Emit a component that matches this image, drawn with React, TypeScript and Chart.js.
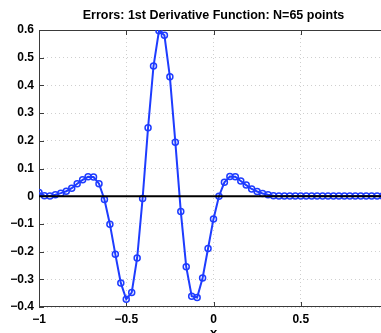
import React, { useEffect, useRef } from 'react';
import { Chart, registerables } from 'chart.js';

Chart.register(...registerables);

const N = 65;
// uniform grid on [-1, 1]
const xGrid: number[] = Array.from({ length: N }, (_, j) => -1 + (2 * j) / (N - 1));
const errors: number[] = [
  0.013, 0.002, 0.001, 0.005, 0.011, 0.018, 0.029, 0.045, 0.059, 0.070,
  0.069, 0.045, -0.012, -0.101, -0.210, -0.313, -0.372, -0.348, -0.223, -0.008,
  0.247, 0.470, 0.597, 0.581, 0.431, 0.195, -0.055, -0.255, -0.361, -0.366,
  -0.295, -0.189, -0.082, 0.000, 0.050, 0.071, 0.070, 0.055, 0.040, 0.026,
  0.017, 0.010, 0.005, 0.002, 0.001, 0.001, 0.001, 0.001, 0.001, 0.001,
  0.001, 0.001, 0.001, 0.001, 0.001, 0.001, 0.001, 0.001, 0.001, 0.001,
  0.001, 0.001, 0.001, 0.001, 0.001,
];
const zeroLineX: number[] = [-1, 1];
const xTicks: number[] = [-1, -0.5, 0, 0.5, 1];
const yTicks: number[] = [-0.4, -0.3, -0.2, -0.1, 0, 0.1, 0.2, 0.3, 0.4, 0.5, 0.6];
const titleText = 'Errors: 1st Derivative Function: N=65 points';
const xLabel = 'x';

const FONT = '"Liberation Sans", Arial, Helvetica, sans-serif';
const fmt = (v: number) => {
  const r = Math.round(Number(v) * 10) / 10;
  return r < 0 ? '\u2212' + String(-r) : String(Math.abs(r));
};

export default function App() {
  const ref = useRef<HTMLCanvasElement>(null);

  useEffect(() => {
    if (!ref.current) return;
    const boxPlugin = {
      id: 'matlabBox',
      beforeDatasetsDraw(chart: any) {
        const { ctx, chartArea: a, scales } = chart;
        ctx.save();
        ctx.strokeStyle = '#3a3a3a';
        ctx.lineWidth = 1;
        ctx.strokeRect(a.left + 0.5, a.top + 0.5, a.right - a.left - 1, a.bottom - a.top - 1);
        const tl = 5;
        ctx.beginPath();
        xTicks.forEach((t) => {
          const px = Math.round(scales.x.getPixelForValue(t)) + 0.5;
          ctx.moveTo(px, a.bottom);
          ctx.lineTo(px, a.bottom - tl);
          ctx.moveTo(px, a.top);
          ctx.lineTo(px, a.top + tl);
        });
        yTicks.forEach((t) => {
          const py = Math.round(scales.y.getPixelForValue(t)) + 0.5;
          ctx.moveTo(a.left, py);
          ctx.lineTo(a.left + tl, py);
          ctx.moveTo(a.right, py);
          ctx.lineTo(a.right - tl, py);
        });
        ctx.stroke();
        ctx.restore();
      },
      afterDraw(chart: any) {
        const { ctx, scales, chartArea: a } = chart;
        ctx.save();
        ctx.fillStyle = '#000';
        ctx.textAlign = 'center';
        ctx.textBaseline = 'middle';
        ctx.font = `bold 12.5px ${FONT}`;
        ctx.fillText(titleText, (a.left + a.right) / 2, 16);
        ctx.font = `bold 13px ${FONT}`;
        ctx.textBaseline = 'alphabetic';
        ctx.fillText(xLabel, scales.x.getPixelForValue(0), 337);
        ctx.restore();
      },
    };

    const chart = new Chart(ref.current, {
      type: 'line',
      data: {
        datasets: [
          {
            data: zeroLineX.map((x) => ({ x, y: 0 })),
            borderColor: '#000000',
            borderWidth: 2,
            pointRadius: 0,
            order: 0,
          },
          {
            data: xGrid.map((x, i) => ({ x, y: errors[i] })),
            borderColor: 'rgb(30,60,255)',
            borderWidth: 2,
            pointRadius: 3,
            pointBorderWidth: 1.5,
            pointBorderColor: 'rgb(30,60,255)',
            pointBackgroundColor: 'rgba(0,0,0,0)',
            tension: 0,
            order: 1,
          },
        ],
      },
      options: {
        animation: false,
        responsive: false,
        maintainAspectRatio: false,
        layout: { padding: { left: 0, right: 12, top: 30, bottom: 0 } },
        plugins: {
          legend: { display: false },
          tooltip: { enabled: false },
          title: { display: false },
        },
        scales: {
          x: {
            type: 'linear',
            min: -1,
            max: 1,
            afterFit: (s: any) => { s.height = 26; },
            afterBuildTicks: (s: any) => { s.ticks = xTicks.map((v) => ({ value: v })); },
            ticks: {
              color: '#000',
              font: { family: FONT, size: 12, weight: 'bold' },
              padding: 5,
              maxRotation: 0,
              autoSkip: false,
              callback: (v: any) => fmt(v),
            },
            grid: { color: '#cfcfcf', lineWidth: 1, drawTicks: false },
            border: { display: false, dash: [1, 3] },
          },
          y: {
            type: 'linear',
            min: -0.4,
            max: 0.6,
            afterFit: (s: any) => { s.width = 39; },
            afterBuildTicks: (s: any) => { s.ticks = yTicks.map((v) => ({ value: v })); },
            ticks: {
              color: '#000',
              font: { family: FONT, size: 12, weight: 'bold' },
              padding: 5,
              autoSkip: false,
              callback: (v: any) => fmt(v),
            },
            grid: { color: '#cfcfcf', lineWidth: 1, drawTicks: false },
            border: { display: false, dash: [1, 3] },
          },
        },
      } as any,
      plugins: [boxPlugin],
    });
    return () => chart.destroy();
  }, []);

  return (
    <div
      style={{
        position: 'fixed',
        left: 0,
        top: 0,
        width: 381,
        height: 333,
        overflow: 'hidden',
        background: '#fff',
      }}
    >
      <canvas ref={ref} width={400} height={333} style={{ display: 'block', width: 400, height: 333 }} />
    </div>
  );
}
